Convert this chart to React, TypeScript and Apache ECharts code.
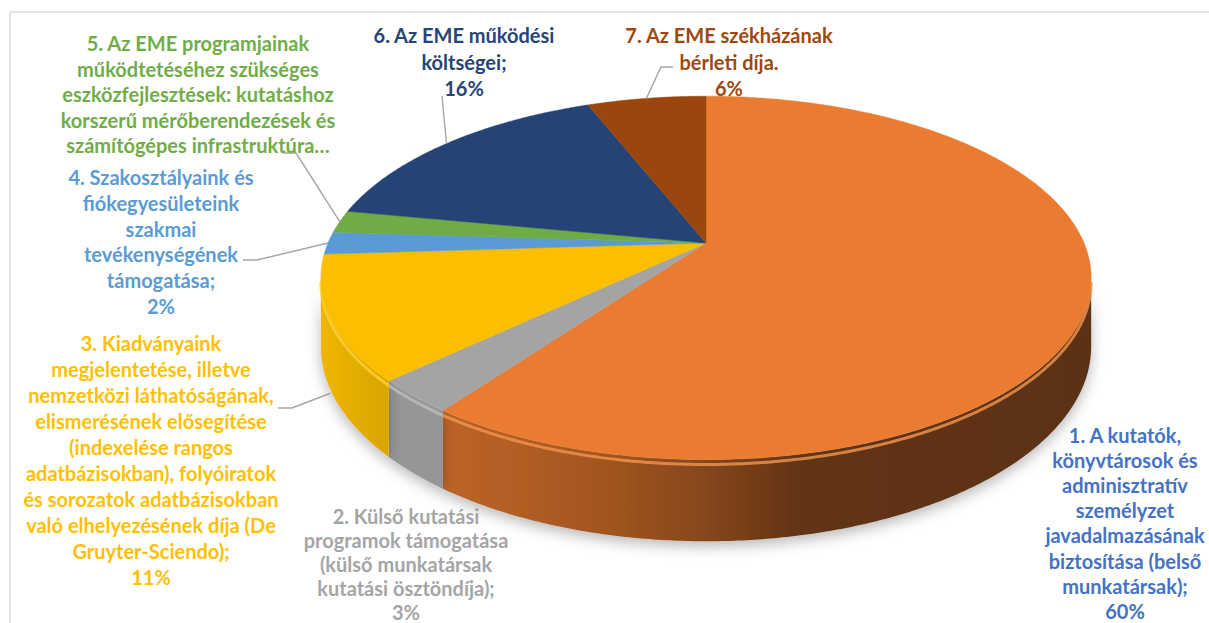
import React, { useEffect, useRef } from "react";
import * as echarts from "echarts";

// ---------- data ----------
const categories = [
  "1. A kutatók,\nkönyvtárosok és\nadminisztratív\nszemélyzet\njavadalmazásának\nbiztosítása (belső\nmunkatársak)",
  "2. Külső kutatási\nprogramok támogatása\n(külső munkatársak\nkutatási ösztöndíja)",
  "3. Kiadványaink\nmegjelentetése, illetve\nnemzetközi láthatóságának,\nelismerésének elősegítése\n(indexelése rangos\nadatbázisokban), folyóiratok\nés sorozatok adatbázisokban\nvaló elhelyezésének díja (De\nGruyter-Sciendo)",
  "4. Szakosztályaink és\nfiókegyesületeink\nszakmai\ntevékenységének\ntámogatása",
  "5. Az EME programjainak\nműködtetéséhez szükséges\neszközfejlesztések: kutatáshoz\nkorszerű mérőberendezések és\nszámítógépes infrastruktúra…",
  "6. Az EME működési\nköltségei",
  "7. Az EME székházának\nbérleti díja.",
];
const values = [60, 3, 11, 2, 2, 16, 6];
// separator between name and percentage ("" = value not shown, label truncated)
const valueSeparators = [";\n", ";\n", ";\n", ";\n", "", ";\n", "\n"];

// ---------- styles ----------
const topColors = ["#EA7C31", "#A4A4A4", "#FBBF00", "#5A9AD5", "#6FAC46", "#254375", "#9B460E"];
const bevelColors = ["#F2964F", "#BDBDBD", "#FFD032", "#7DB1E0", "#8CC26A", "#3A5A90", "#B5602A"];
const wallStops = [
  [[0, "#C96C2E"], [0.16, "#C0662A"], [0.375, "#A3561F"], [0.5, "#88471B"], [0.625, "#623416"], [1, "#5B3115"]],
  [[0, "#999999"], [1, "#858585"]],
  [[0, "#F4BC00"], [0.1, "#DCA600"], [1, "#D09C00"]],
  [[0, "#4D86BE"], [1, "#4D86BE"]],
  [[0, "#5E9439"], [1, "#5E9439"]],
  [[0, "#1D3560"], [1, "#1D3560"]],
  [[0, "#7E390B"], [1, "#7E390B"]],
];
const labelColors = ["#4472C4", "#A5A5A5", "#FFC000", "#5B9BD5", "#70AD47", "#264478", "#9E480E"];

// ---------- layout ----------
const PIE = { cx: 706, cy: 243, A: 378, B: 175, p: 0.192, H: 66 };
const FONT = { family: "Lato, 'Open Sans', sans-serif", size: 20 };
const labelLayout = [
  { x: 1125, y: 435, lh: 25.1 },
  { x: 406, y: 516, lh: 23.9 },
  { x: 151, y: 343, lh: 26 },
  { x: 161, y: 177, lh: 25.8 },
  { x: 198, y: 43, lh: 25.5 },
  { x: 464, y: 35, lh: 26.5 },
  { x: 729, y: 35, lh: 26.5 },
];
const leaderLayout: ({ pts: number[][]; z: number } | null)[] = [
  null,
  null,
  { pts: [[278, 408], [292, 408]], z: 1.05 },
  { pts: [[243, 260], [257, 260]], z: 0 },
  { pts: [[283, 153], [296, 153]], z: 0 },
  { pts: [[442, 96]], z: 0 },
  { pts: [[673, 67], [661, 67]], z: 0 },
];

function proj(theta: number, z: number) {
  const X = Math.sin(theta);
  const Y = -Math.cos(theta);
  const f = 1 / (1 - PIE.p * Y);
  return [PIE.cx + PIE.A * X * f, PIE.cy + PIE.B * Y * f + z * PIE.H * f];
}

function arc(t1: number, t2: number, z: number) {
  const n = Math.max(2, Math.ceil((t2 - t1) / (Math.PI / 360)));
  const pts: number[][] = [];
  for (let k = 0; k <= n; k++) pts.push(proj(t1 + ((t2 - t1) * k) / n, z));
  return pts;
}

export default function App() {
  const ref = useRef<HTMLDivElement>(null);
  useEffect(() => {
    if (!ref.current) return;
    const chart = echarts.init(ref.current, undefined, { renderer: "svg" });
    const total = values.reduce((a, b) => a + b, 0);
    let acc = 0;
    const data = values.map((v) => {
      const s = acc / total;
      acc += v;
      return [v, s, acc / total];
    });
    const tv = Math.acos(-PIE.p);

    const renderItem = (params: any, api: any) => {
      const i = params.dataIndex;
      const v = api.value(0);
      const t1 = api.value(1) * Math.PI * 2;
      const t2 = api.value(2) * Math.PI * 2;
      const children: any[] = [];
      // top face
      const top = [[PIE.cx, PIE.cy], ...arc(t1, t2, 0)];
      children.push({
        type: "polygon",
        z2: 10,
        shape: { points: top },
        style: { fill: topColors[i], stroke: topColors[i], lineWidth: 0.5 },
      });
      // outer wall (visible part only)
      const a = Math.max(t1, tv);
      const b = Math.min(t2, Math.PI * 2 - tv);
      if (a < b) {
        const upper = arc(a, b, 0);
        const lower = arc(a, b, 1).reverse();
        children.push({
          type: "polygon",
          z2: 2,
          shape: { points: [...upper, ...lower] },
          style: {
            fill: new echarts.graphic.LinearGradient(300, 0, 1100, 0,
              wallStops[i].map((s) => ({ offset: s[0] as number, color: s[1] as string })), true),
            shadowBlur: 14,
            shadowColor: "rgba(0,0,0,0.28)",
            shadowOffsetY: 5,
          },
        });
        children.push({
          type: "polyline",
          z2: 4,
          shape: { points: arc(a, b, 0.06) },
          style: { stroke: bevelColors[i], lineWidth: 3, fill: "none", opacity: 0.8 },
        });
      }
      // label
      const L = labelLayout[i];
      const sep = valueSeparators[i];
      const text = categories[i] + (sep ? sep + v + "%" : "");
      children.push({
        type: "text",
        z2: 20,
        style: {
          text,
          x: L.x,
          y: L.y - L.lh / 2,
          align: "center",
          verticalAlign: "top",
          lineHeight: L.lh,
          fill: labelColors[i],
          fontFamily: FONT.family,
          fontSize: FONT.size,
          fontWeight: "bold",
        },
      });
      // leader line
      const ld = leaderLayout[i];
      if (ld) {
        const end = proj((t1 + t2) / 2, ld.z);
        children.push({
          type: "polyline",
          z2: 15,
          shape: { points: [...ld.pts, end] },
          style: { stroke: "#A6A6A6", lineWidth: 1.4, fill: "none" },
        });
      }
      return { type: "group", children };
    };

    chart.setOption({
      animation: false,
      backgroundColor: "#FFFFFF",
      graphic: [
        {
          type: "rect",
          shape: { x: 10, y: 12, width: 1400, height: 800 },
          style: { fill: "none", stroke: "#D9D9D9", lineWidth: 1.5 },
          silent: true,
        },
      ],
      series: [
        {
          type: "custom",
          coordinateSystem: "none",
          renderItem,
          data,
          silent: true,
        },
      ],
    });
    return () => chart.dispose();
  }, []);
  return (
    <div
      ref={ref}
      style={{ position: "fixed", left: 0, top: 0, width: 1209, height: 623 }}
    />
  );
}
